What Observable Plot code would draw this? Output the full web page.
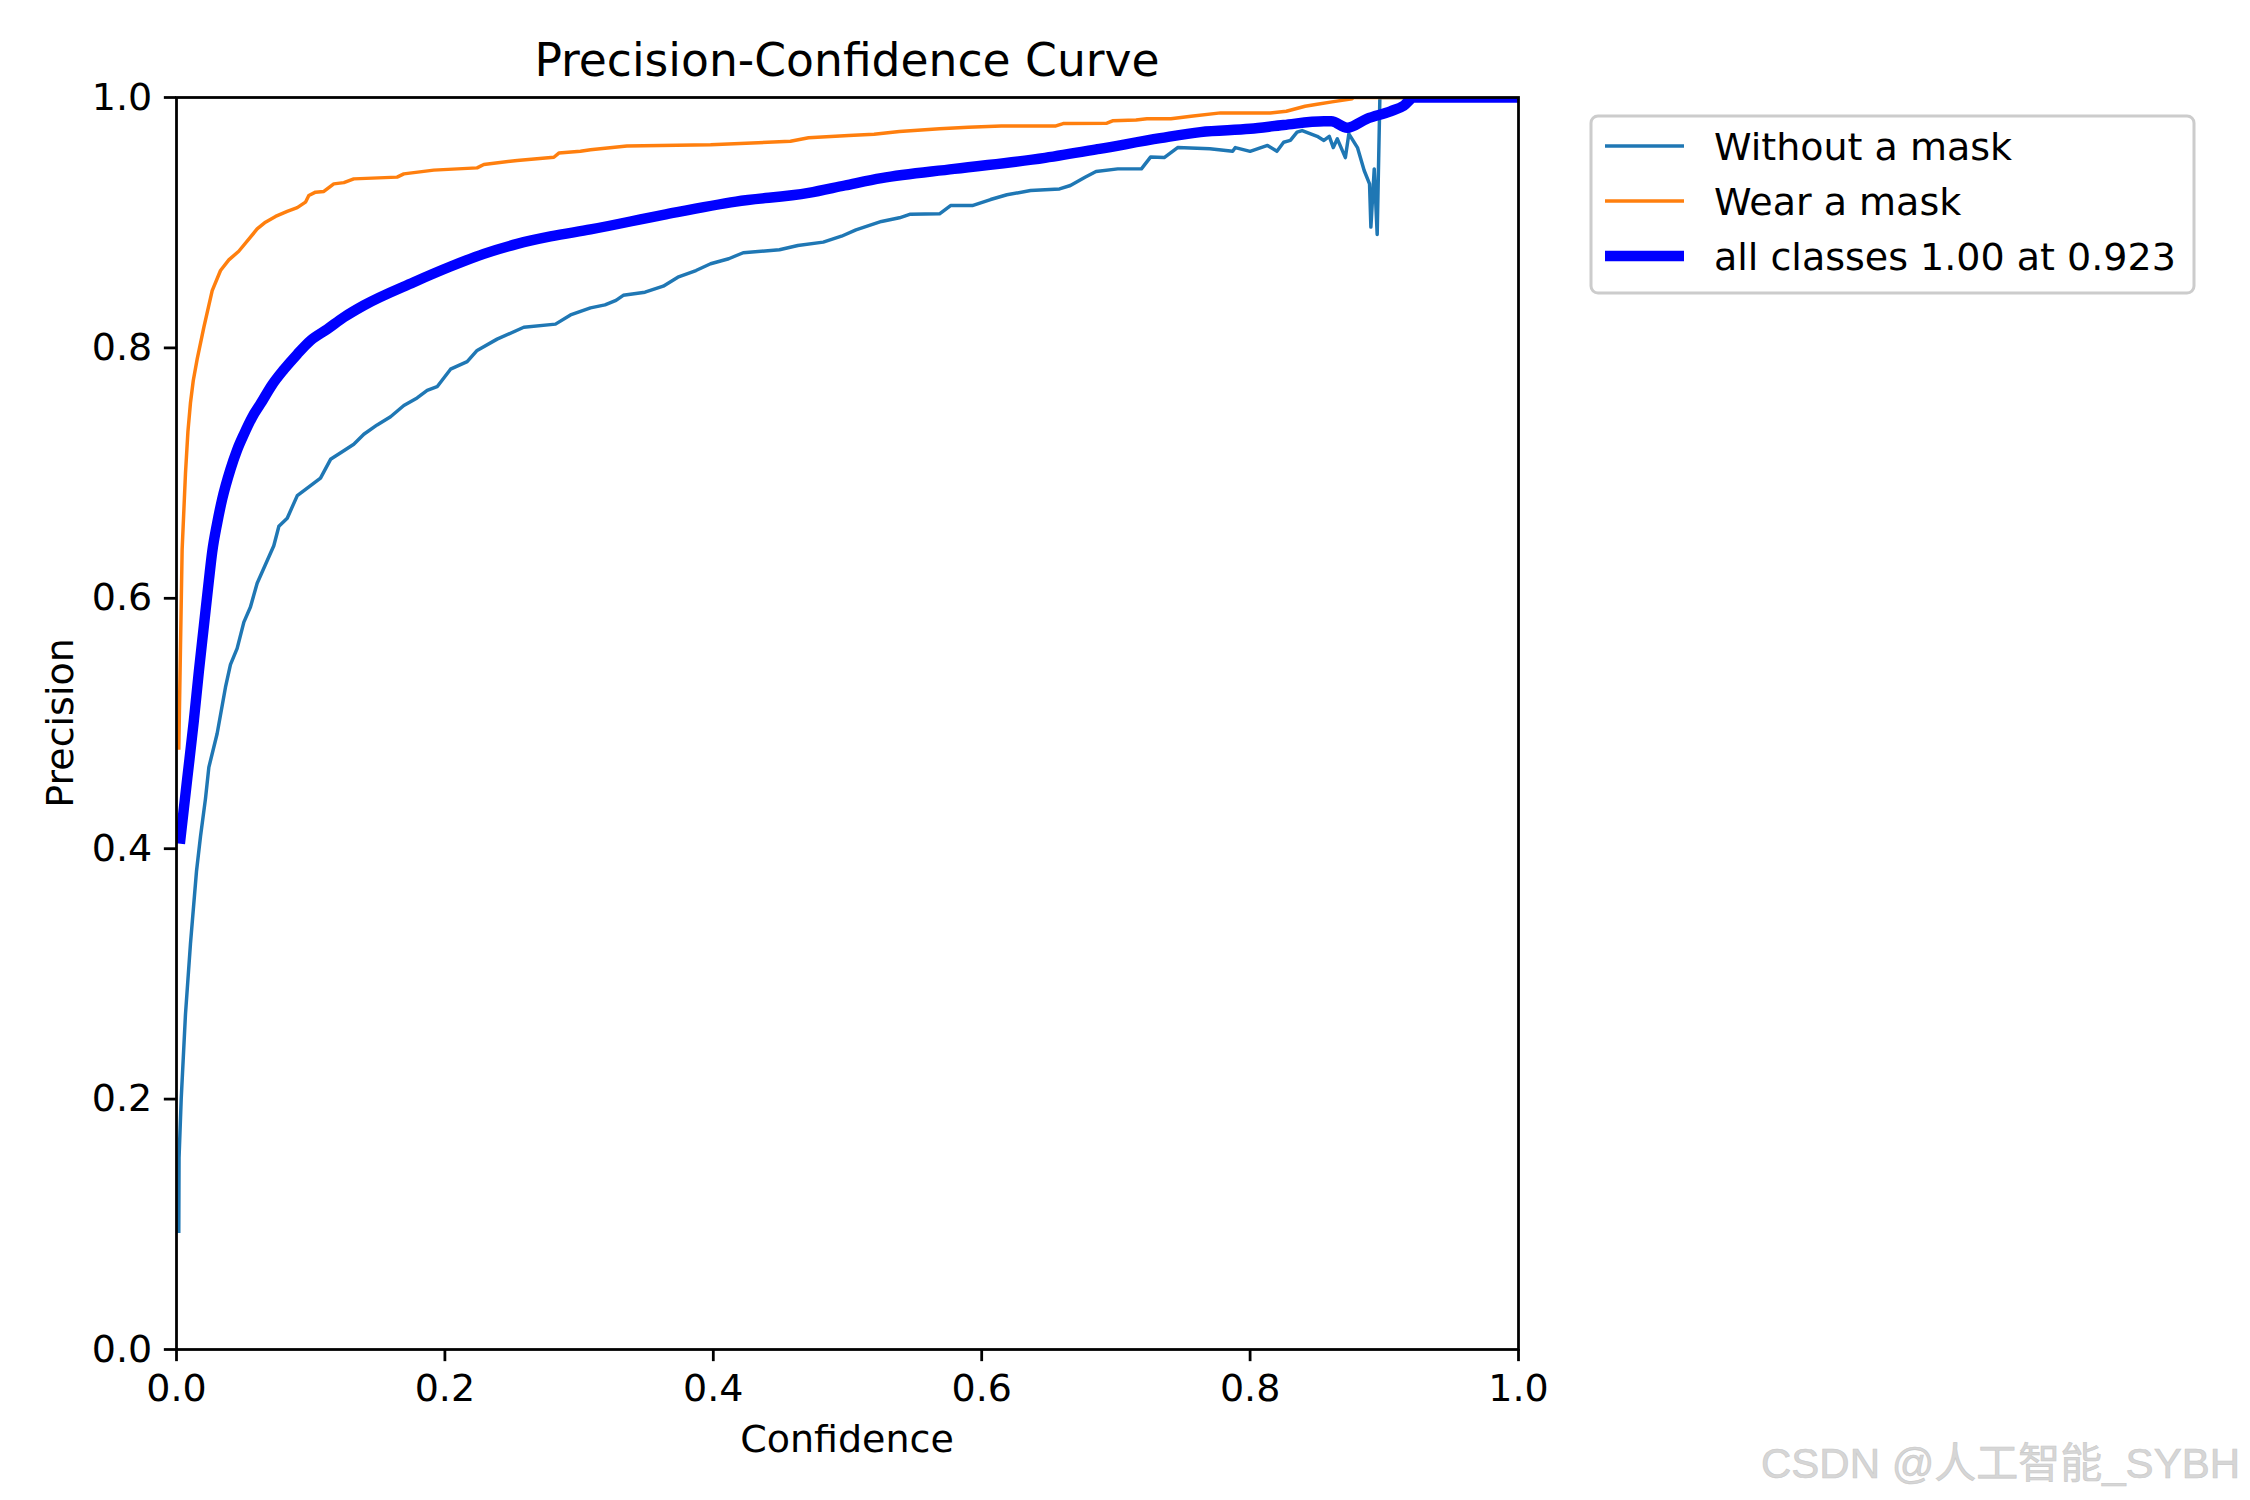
<!DOCTYPE html>
<html>
<head>
<meta charset="utf-8">
<script src="https://cdn.jsdelivr.net/npm/d3@7"></script>
<script src="https://cdn.jsdelivr.net/npm/@observablehq/plot@0.6"></script>
<style>
  html, body { margin: 0; padding: 0; background: #fff; }
  #chart { width: 2250px; height: 1500px; }
</style>
</head>
<body>
<div id="chart"></div>
<script>
// ---- data ----
const chartTitle = "Precision-Confidence Curve";
const xLabel = "Confidence";
const yLabel = "Precision";
const watermark = "CSDN @人工智能_SYBH";

const seriesNames = ["Without a mask", "Wear a mask", "all classes 1.00 at 0.923"];
const seriesColors = ["#1f77b4", "#ff7f0e", "#0000ff"];

const xTicks = [0, 0.2, 0.4, 0.6, 0.8, 1.0];
const yTicks = [0, 0.2, 0.4, 0.6, 0.8, 1.0];

// Without a mask
const withoutConf = [0.0017,0.0019,0.0035,0.0067,0.0104,0.0149,0.0179,0.0216,0.0241,0.0303,0.0365,0.0402,0.0452,0.0502,0.0551,0.0601,0.0663,0.0725,0.0763,0.0825,0.090,0.0999,0.1073,0.1148,0.1235,0.1321,0.1396,0.1495,0.1595,0.1694,0.1793,0.1868,0.1942,0.2042,0.2166,0.224,0.2389,0.2588,0.2824,0.2936,0.3085,0.3193,0.3275,0.3329,0.3491,0.3627,0.3736,0.3871,0.398,0.4115,0.4223,0.4493,0.463,0.4819,0.4955,0.5063,0.5253,0.5387,0.5469,0.5686,0.5768,0.593,0.6066,0.6188,0.6364,0.658,0.6661,0.677,0.6852,0.7014,0.719,0.7258,0.736,0.746,0.770,0.787,0.789,0.800,0.813,0.820,0.825,0.830,0.835,0.8388,0.850,0.855,0.859,0.862,0.865,0.871,0.8736,0.880,0.885,0.889,0.890,0.8925,0.8947,0.8967,1.0];
const withoutPrec = [0.093,0.153,0.200,0.268,0.324,0.382,0.410,0.440,0.465,0.492,0.529,0.547,0.560,0.581,0.593,0.612,0.627,0.642,0.6575,0.664,0.682,0.690,0.696,0.711,0.717,0.723,0.731,0.7385,0.745,0.754,0.760,0.766,0.769,0.783,0.789,0.798,0.807,0.8165,0.819,0.8263,0.832,0.8344,0.838,0.842,0.8445,0.8493,0.8565,0.8618,0.8672,0.8712,0.876,0.8784,0.8818,0.8845,0.8892,0.8943,0.901,0.9039,0.9068,0.9071,0.9137,0.9137,0.9185,0.9223,0.9257,0.927,0.9297,0.9363,0.9409,0.943,0.943,0.9524,0.952,0.960,0.959,0.957,0.960,0.957,0.9617,0.957,0.9643,0.9657,0.9723,0.9736,0.969,0.9657,0.969,0.960,0.967,0.952,0.971,0.960,0.9417,0.931,0.8965,0.943,0.8906,1.0,1.0];

// Wear a mask
const wearConf = [0.0017,0.003,0.0042,0.0067,0.0085,0.0104,0.0125,0.0154,0.0204,0.0266,0.0328,0.039,0.0464,0.0551,0.0601,0.0663,0.0738,0.0825,0.090,0.0961,0.0986,0.1036,0.1098,0.1172,0.1247,0.1321,0.1644,0.1694,0.1917,0.224,0.229,0.2539,0.2812,0.2849,0.301,0.3085,0.3356,0.398,0.4575,0.471,0.501,0.5198,0.5387,0.5686,0.590,0.6146,0.6553,0.6607,0.6933,0.6975,0.715,0.7231,0.741,0.756,0.778,0.815,0.827,0.841,0.850,0.861,0.876,0.877,1.0];
const wearPrec = [0.479,0.563,0.639,0.700,0.733,0.756,0.774,0.791,0.8166,0.8458,0.8618,0.8703,0.8772,0.8884,0.895,0.9004,0.905,0.909,0.912,0.9164,0.9217,0.9244,0.925,0.931,0.932,0.935,0.9364,0.939,0.942,0.9438,0.9465,0.9497,0.9523,0.9556,0.957,0.9582,0.9613,0.9622,0.9651,0.9678,0.9696,0.9707,0.9728,0.975,0.9763,0.9773,0.9773,0.9792,0.9795,0.9814,0.982,0.983,0.983,0.985,0.9877,0.9877,0.989,0.993,0.9946,0.9965,0.999,1.0,1.0];

// all classes
const allConf = [0.0025,0.0080,0.0129,0.0166,0.0204,0.0241,0.0266,0.0303,0.034,0.0402,0.0452,0.0502,0.0564,0.0626,0.0713,0.08,0.09,0.1,0.1123,0.1247,0.1396,0.1768,0.2042,0.229,0.2539,0.2787,0.3085,0.3627,0.4169,0.471,0.498,0.5253,0.5795,0.6472,0.6878,0.733,0.763,0.800,0.825,0.855,0.8605,0.8723,0.887,0.9046,0.9146,0.922,1.0];
const allPrec = [0.404,0.456,0.502,0.541,0.578,0.614,0.637,0.660,0.679,0.703,0.7186,0.731,0.7447,0.7553,0.7706,0.7827,0.795,0.806,0.8149,0.8245,0.834,0.8525,0.865,0.8751,0.8831,0.889,0.8946,0.9063,0.9169,0.9238,0.9297,0.9356,0.943,0.9518,0.959,0.9675,0.9724,0.975,0.978,0.981,0.981,0.9758,0.983,0.989,0.9936,1.0,1.0];

const zip = (cs, ps) => cs.map((c, i) => ({conf: c, prec: ps[i]}));
const rowsWithout = zip(withoutConf, withoutPrec);
const rowsWear = zip(wearConf, wearPrec);
const rowsAll = zip(allConf, allPrec);

const FONT = "'DejaVu Sans', sans-serif";
const PT = 250 / 72; // px per point at 250 dpi
const thin = 1 * PT, thick = 3 * PT, spine = 0.8 * PT;
const fsBase = 38, fsTitle = 45.6;

const plot = Plot.plot({
  width: 2250,
  height: 1500,
  marginLeft: 176,
  marginRight: 732,
  marginTop: 97,
  marginBottom: 151,
  style: { background: "white", fontFamily: FONT, color: "black", overflow: "visible" },
  x: { domain: [0, 1] },
  y: { domain: [0, 1] },
  marks: [
    Plot.line(rowsWithout, { x: "conf", y: "prec", stroke: seriesColors[0], strokeWidth: thin, clip: true, strokeLinecap: "butt" }),
    Plot.line(rowsWear, { x: "conf", y: "prec", stroke: seriesColors[1], strokeWidth: thin, clip: true, strokeLinecap: "butt" }),
    Plot.line(rowsAll, { x: "conf", y: "prec", stroke: seriesColors[2], strokeWidth: thick, clip: true, strokeLinecap: "butt", curve: "monotone-x" }),
    Plot.frame({ stroke: "black", strokeWidth: spine }),
    Plot.axisX({ ticks: xTicks, tickFormat: d3.format(".1f"), tickSize: 3.5 * PT, tickPadding: 3.5 * PT, fontSize: fsBase, strokeWidth: spine, label: null }),
    Plot.axisY({ ticks: yTicks, tickFormat: d3.format(".1f"), tickSize: 3.5 * PT, tickPadding: 3.5 * PT, fontSize: fsBase, strokeWidth: spine, label: null })
  ]
});

document.getElementById("chart").appendChild(plot);

const svg = d3.select(plot);
const [xL, xR] = plot.scale("x").range;
const [yB, yT] = plot.scale("y").range;
const xMid = (xL + xR) / 2;

// Title
svg.append("text")
  .attr("x", xMid).attr("y", yT - 6 * PT)
  .attr("text-anchor", "middle")
  .attr("font-family", FONT).attr("font-size", fsTitle)
  .attr("fill", "black")
  .text(chartTitle);

// X label
svg.append("text")
  .attr("x", xMid).attr("y", yB + 103)
  .attr("text-anchor", "middle")
  .attr("font-family", FONT).attr("font-size", fsBase)
  .attr("fill", "black")
  .text(xLabel);

// Y label
svg.append("text")
  .attr("transform", `translate(${xL - 103},${(yB + yT) / 2}) rotate(-90)`)
  .attr("text-anchor", "middle")
  .attr("font-family", FONT).attr("font-size", fsBase)
  .attr("fill", "black")
  .text(yLabel);

// Legend
const lgX = xR + 73, lgY = yT + 19, lgW = 603, lgH = 177;
const lg = svg.append("g");
lg.append("rect")
  .attr("x", lgX).attr("y", lgY).attr("width", lgW).attr("height", lgH)
  .attr("rx", 7).attr("ry", 7)
  .attr("fill", "white").attr("fill-opacity", 0.8)
  .attr("stroke", "#cccccc").attr("stroke-width", 3);
const rowY = [30, 85, 140];
const widths = [thin, thin, thick];
seriesNames.forEach((name, i) => {
  const cy = lgY + rowY[i];
  lg.append("line")
    .attr("x1", lgX + 14).attr("x2", lgX + 93)
    .attr("y1", cy).attr("y2", cy)
    .attr("stroke", seriesColors[i]).attr("stroke-width", widths[i]);
  lg.append("text")
    .attr("x", lgX + 123).attr("y", cy + 13.5)
    .attr("text-anchor", "start")
    .attr("font-family", FONT).attr("font-size", fsBase)
    .attr("fill", "black")
    .text(name);
});

// Watermark
svg.append("text")
  .attr("x", 2240).attr("y", 1478)
  .attr("text-anchor", "end")
  .attr("font-family", "'Liberation Sans', 'Noto Sans CJK SC', sans-serif")
  .attr("font-size", 42)
  .attr("fill", "#d6d6d6")
  .attr("stroke", "#c8c8c8").attr("stroke-width", 0.6)
  .text(watermark);
</script>
</body>
</html>
